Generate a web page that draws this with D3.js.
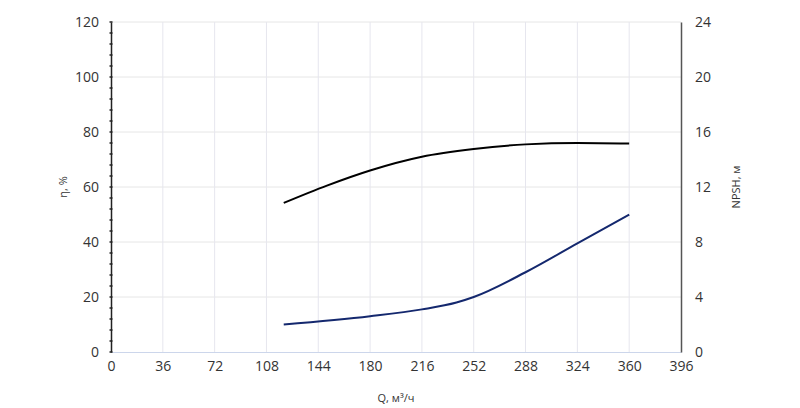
<!DOCTYPE html>
<html><head><meta charset="utf-8">
<script src="https://cdn.jsdelivr.net/npm/d3@7"></script>
<style>body{margin:0;background:#fff}text{font-family:"Open Sans",sans-serif}</style>
</head><body><svg id="chart"></svg>
<script>
const width = 800, height = 408;
const m = {left: 111, right: 119, top: 22, bottom: 56};

const xTicks = [0, 36, 72, 108, 144, 180, 216, 252, 288, 324, 360, 396];
const etaTicks = [0, 20, 40, 60, 80, 100, 120];
const npshTicks = [0, 4, 8, 12, 16, 20, 24];

const etaQ = [120, 150, 180, 216, 252, 288, 324, 360];
const etaVal = [54.2, 60.5, 66, 71, 73.8, 75.5, 76, 75.8];
const npshQ = [120, 180, 216, 240, 252, 288, 324, 360];
const npshVal = [2.0, 2.6, 3.1, 3.6, 4.0, 5.8, 7.9, 10.0];

const svg = d3.select("#chart").attr("width", width).attr("height", height);

const x = d3.scaleLinear().domain([0, 396]).range([m.left, width - m.right]);
const yL = d3.scaleLinear().domain([0, 120]).range([height - m.bottom, m.top]);
const yR = d3.scaleLinear().domain([0, 24]).range([height - m.bottom, m.top]);
const y0 = height - m.bottom;

// grid
svg.append("g").selectAll("line").data(etaTicks.slice(1)).join("line")
  .attr("x1", m.left).attr("x2", width - m.right)
  .attr("y1", d => yL(d)).attr("y2", d => yL(d))
  .attr("stroke", "#e6e6e6");
svg.append("g").selectAll("line").data(xTicks.slice(1, -1)).join("line")
  .attr("x1", d => x(d)).attr("x2", d => x(d))
  .attr("y1", m.top).attr("y2", y0)
  .attr("stroke", "#e6e6ee");

// bottom axis
const xa = svg.append("g").attr("transform", `translate(0,${y0})`)
  .call(d3.axisBottom(x).tickValues(xTicks).tickSize(0).tickPadding(9));
xa.select(".domain").attr("stroke", "#ccd6eb");
xa.selectAll("text").attr("font-size", 14).attr("fill", "#333");

// left axis
const ya = svg.append("g").attr("transform", `translate(${m.left},0)`)
  .call(d3.axisLeft(yL).tickValues(etaTicks).tickSize(0).tickPadding(12));
ya.select(".domain").attr("stroke", "#222").attr("stroke-width", 1.5);
ya.selectAll("text").attr("font-size", 14).attr("fill", "#333");
svg.append("g").selectAll("line").data(d3.range(0, 121, 4)).join("line")
  .attr("x1", m.left - 1.5).attr("x2", m.left + 1.5)
  .attr("y1", d => yL(d)).attr("y2", d => yL(d))
  .attr("stroke", "#222").attr("stroke-width", 1.5);

// right axis
const yra = svg.append("g").attr("transform", `translate(${width - m.right},0)`)
  .call(d3.axisRight(yR).tickValues(npshTicks).tickSize(0).tickPadding(14));
yra.select(".domain").attr("stroke", "#555").attr("stroke-width", 1.5);
yra.selectAll("text").attr("font-size", 14).attr("fill", "#333");

// titles
svg.append("text").attr("x", x(198)).attr("y", 402).attr("text-anchor", "middle")
  .attr("font-size", 11).attr("fill", "#333").text("Q, м³/ч");
svg.append("text").attr("transform", `translate(67,${yL(60)}) rotate(-90)`)
  .attr("text-anchor", "middle").attr("font-size", 11).attr("fill", "#333").text("η, %");
svg.append("text").attr("transform", `translate(740,${yL(60)}) rotate(-90)`)
  .attr("text-anchor", "middle").attr("font-size", 11).attr("fill", "#333").text("NPSH, м");

// curves
const lineEta = d3.line().x((d, i) => x(etaQ[i])).y(d => yL(d)).curve(d3.curveMonotoneX);
const lineNpsh = d3.line().x((d, i) => x(npshQ[i])).y(d => yR(d)).curve(d3.curveMonotoneX);
svg.append("path").attr("d", lineEta(etaVal)).attr("fill", "none").attr("stroke", "#000").attr("stroke-width", 2);
svg.append("path").attr("d", lineNpsh(npshVal)).attr("fill", "none").attr("stroke", "#14286e").attr("stroke-width", 2);
</script></body></html>
